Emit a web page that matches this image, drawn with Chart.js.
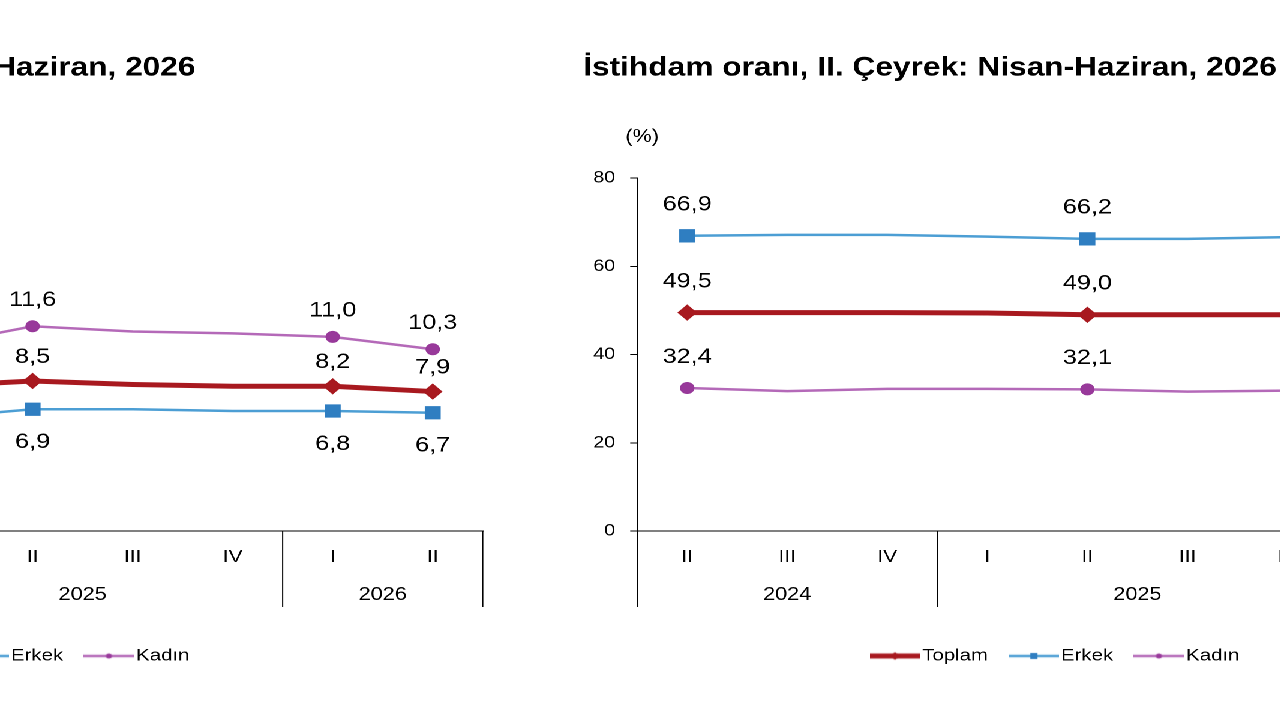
<!DOCTYPE html>
<html>
<head>
<meta charset="utf-8">
<script src="https://cdn.jsdelivr.net/npm/chart.js@4.4.1/dist/chart.umd.min.js"></script>
<style>
html, body { margin: 0; padding: 0; background: #fff; overflow: hidden; width: 1280px; height: 720px; }
/* the source picture is stretched sideways, so the whole stage is too */
#stage { position: absolute; left: 0; top: 0; height: 720px; transform-origin: 0 0; }
#stage canvas { position: absolute; top: 0; }
</style>
</head>
<body>
<div id="stage">
	<canvas id="issizlik"></canvas>
	<canvas id="istihdam"></canvas>
</div>
<script>
const quarters = ['II', 'III', 'IV', 'I', 'II', 'III', 'IV', 'I', 'II'];
const years = ['2024', '2024', '2024', '2025', '2025', '2025', '2025', '2026', '2026'];
const labelledQuarters = [0, 4, 7, 8];
const seriesNames = ['Toplam', 'Erkek', 'Kadın'];

// İşsizlik oranı (%)
const issizlikToplam = [8.6, 8.6, 8.7, 8.2, 8.5, 8.3, 8.2, 8.2, 7.9];
const issizlikErkek = [7.0, 7.0, 7.1, 6.4, 6.9, 6.9, 6.8, 6.8, 6.7];
const issizlikKadin = [11.6, 11.3, 11.5, 10.5, 11.6, 11.3, 11.2, 11.0, 10.3];
const issizlikTicks = [0, 5, 10, 15, 20];

// İstihdam oranı (%)
const istihdamToplam = [49.5, 49.5, 49.5, 49.4, 49.0, 49.0, 49.0, 48.9, 48.7];
const istihdamErkek = [66.9, 67.1, 67.1, 66.7, 66.2, 66.2, 66.6, 66.4, 66.1];
const istihdamKadin = [32.4, 31.7, 32.2, 32.2, 32.1, 31.6, 31.8, 31.7, 31.6];
const istihdamTicks = [0, 20, 40, 60, 80];

const FONT = '"Liberation Sans", Arial, sans-serif';
Chart.defaults.font.family = FONT;
Chart.defaults.color = '#000';

// horizontal stretch of the picture, and the page layout in screen px
const S = 1.2;
const titleLeft = 583, axisLeft = 637, plotW = 900, panelGap = 1055;
const yAxisW = (axisLeft - titleLeft) / S;
const lostRight = 7.5; // chart.js keeps this much on the right of the plot
const canvasW = Math.ceil(yAxisW + plotW / S + 2 + lostRight);
const padRight = canvasW - yAxisW - plotW / S - lostRight;

const stage = document.getElementById('stage');
stage.style.transform = 'scaleX(' + S + ')';
stage.style.width = (1280 / S) + 'px';
[['issizlik', titleLeft - panelGap], ['istihdam', titleLeft]].forEach(([id, left]) => {
	let c = document.getElementById(id);
	c.width = canvasW;
	c.height = 720;
	c.style.left = (left / S) + 'px';
});

const colors = {
	toplam: '#A8191F',
	erkekLine: '#4C9ED4', erkekMark: '#2F7EC1',
	kadinLine: '#B469B8', kadinMark: '#98399A'
};

function marks(r) {
	return quarters.map((q, i) => labelledQuarters.includes(i) ? r : 0);
}

const iconW = Math.round(50 / S);
function legendIcon(lineColor, lineWidth, markColor, shape) {
	let c = document.createElement('canvas');
	c.width = iconW; c.height = 14;
	let g = c.getContext('2d');
	let m = iconW / 2;
	g.strokeStyle = lineColor; g.lineWidth = lineWidth;
	g.beginPath(); g.moveTo(0, 7); g.lineTo(iconW, 7); g.stroke();
	g.fillStyle = markColor;
	g.beginPath();
	if (shape === 'diamond') {
		g.moveTo(m, 3); g.lineTo(m + 3.5, 7); g.lineTo(m, 11); g.lineTo(m - 3.5, 7);
	} else if (shape === 'square') {
		g.rect(m - 3, 4, 6, 6);
	} else {
		g.arc(m, 7, 2.5, 0, Math.PI * 2);
	}
	g.fill();
	return c;
}
const legendIcons = [
	legendIcon(colors.toplam, 5, colors.toplam, 'diamond'),
	legendIcon(colors.erkekLine, 2.5, colors.erkekMark, 'square'),
	legendIcon(colors.kadinLine, 2.5, colors.kadinMark, 'circle')
];

function makeDatasets(toplam, erkek, kadin, offsets) {
	return [
		{
			label: seriesNames[0], data: toplam, borderColor: colors.toplam, borderWidth: 5,
			pointStyle: 'rectRot', pointRadius: marks(7.5), pointBackgroundColor: colors.toplam,
			pointBorderColor: colors.toplam, pointBorderWidth: 1, labelOffset: offsets[0]
		},
		{
			label: seriesNames[1], data: erkek, borderColor: colors.erkekLine, borderWidth: 2.5,
			pointStyle: 'rect', pointRadius: marks(8.7), pointBackgroundColor: colors.erkekMark,
			pointBorderColor: colors.erkekMark, pointBorderWidth: 1, labelOffset: offsets[1]
		},
		{
			label: seriesNames[2], data: kadin, borderColor: colors.kadinLine, borderWidth: 2.5,
			pointStyle: 'circle', pointRadius: marks(5.5), pointBackgroundColor: colors.kadinMark,
			pointBorderColor: colors.kadinMark, pointBorderWidth: 1, labelOffset: offsets[2]
		}
	];
}

// values over the marked quarters
const pointLabels = {
	id: 'pointLabels',
	afterDatasetsDraw(chart) {
		let ctx = chart.ctx;
		ctx.save();
		ctx.font = '21px ' + FONT;
		ctx.fillStyle = '#000';
		ctx.textAlign = 'center';
		ctx.textBaseline = 'middle';
		chart.data.datasets.forEach((ds, di) => {
			let meta = chart.getDatasetMeta(di);
			labelledQuarters.forEach((i) => {
				let el = meta.data[i];
				ctx.fillText(ds.data[i].toFixed(1).replace('.', ','), el.x, el.y + ds.labelOffset);
			});
		});
		ctx.restore();
	}
};

// year row under the quarters, with the separators
const yearGroups = {
	id: 'yearGroups',
	afterDraw(chart) {
		let ctx = chart.ctx, x = chart.scales.x, area = chart.chartArea;
		let bounds = [area.left];
		for (let i = 1; i < years.length; i++) {
			if (years[i] !== years[i - 1]) bounds.push((x.getPixelForValue(i - 1) + x.getPixelForValue(i)) / 2);
		}
		bounds.push(area.right);
		ctx.save();
		ctx.strokeStyle = '#000';
		ctx.lineWidth = 1;
		ctx.beginPath();
		bounds.forEach((b) => { ctx.moveTo(b, area.bottom); ctx.lineTo(b, area.bottom + 76); });
		ctx.stroke();
		ctx.font = '18px ' + FONT;
		ctx.fillStyle = '#000';
		ctx.textAlign = 'center';
		ctx.textBaseline = 'middle';
		let start = 0;
		for (let i = 1; i <= years.length; i++) {
			if (i === years.length || years[i] !== years[start]) {
				let cx = (x.getPixelForValue(start) + x.getPixelForValue(i - 1)) / 2;
				ctx.fillText(years[start], cx, area.bottom + 64);
				start = i;
			}
		}
		ctx.restore();
	}
};

const unitLabel = {
	id: 'unitLabel',
	afterDraw(chart) {
		let ctx = chart.ctx, area = chart.chartArea;
		ctx.save();
		ctx.font = '18px ' + FONT;
		ctx.fillStyle = '#000';
		ctx.textAlign = 'center';
		ctx.textBaseline = 'middle';
		ctx.fillText('(%)', area.left + 5 / S, area.top - 41);
		ctx.restore();
	}
};

// nudge the legend row sideways
const legendShift = {
	id: 'legendShift',
	afterUpdate(chart, args, opts) {
		if (chart.legend) {
			chart.legend.left += opts.dx;
			chart.legend.right += opts.dx;
		}
	},
	defaults: { dx: 0 }
};

const titleSize = 26.4, legendSize = 17, legendPad = 24, legendBottom = 45.5;
const titleTop = 68 - titleSize * 0.6;
const titleBottom = 178 - titleTop - titleSize * 1.2;
const legendTop = 720 - legendBottom - (legendSize + legendPad + 10);

function makeChart(id, title, datasets, ticks, legendDx) {
	return new Chart(document.getElementById(id), {
		type: 'line',
		data: { labels: quarters, datasets: datasets },
		plugins: [pointLabels, yearGroups, unitLabel, legendShift],
		options: {
			responsive: false,
			devicePixelRatio: 2,
			animation: false,
			events: [],
			layout: { padding: { left: 0, right: padRight, top: 0, bottom: legendBottom } },
			elements: { line: { tension: 0 } },
			scales: {
				x: {
					offset: true,
					grid: { display: false },
					border: { display: true, color: '#000', width: 1 },
					ticks: { font: { size: 17.5 }, color: '#000', padding: 7.5, autoSkip: false, maxRotation: 0 },
					afterFit: (s) => { s.height = legendTop - 531; }
				},
				y: {
					min: ticks[0],
					max: ticks[ticks.length - 1],
					grid: { drawOnChartArea: false, drawTicks: true, tickLength: 7 / S, color: '#000' },
					border: { display: true, color: '#000', width: 1 },
					ticks: { stepSize: ticks[1] - ticks[0], font: { size: 16.5 }, color: '#000', padding: 15 / S },
					afterFit: (s) => { s.width = yAxisW; }
				}
			},
			plugins: {
				tooltip: { enabled: false },
				legendShift: { dx: legendDx },
				title: {
					display: true, text: title, align: 'start', color: '#000',
					font: { size: titleSize, weight: 'bold' },
					padding: { top: titleTop, bottom: titleBottom }
				},
				legend: {
					position: 'bottom',
					align: 'center',
					labels: {
						usePointStyle: true,
						pointStyleWidth: iconW - legendSize + 2 / S * 2,
						boxHeight: legendSize,
						padding: legendPad,
						color: '#000',
						font: { size: legendSize },
						generateLabels(chart) {
							let items = Chart.defaults.plugins.legend.labels.generateLabels(chart);
							items.forEach((it) => { it.pointStyle = legendIcons[it.datasetIndex]; });
							return items;
						}
					}
				}
			}
		}
	});
}

makeChart('issizlik', 'İşsizlik oranı, II. Çeyrek: Nisan-Haziran, 2026',
	makeDatasets(issizlikToplam, issizlikErkek, issizlikKadin, [-24, 33, -26]), issizlikTicks, -1);
makeChart('istihdam', 'İstihdam oranı, II. Çeyrek: Nisan-Haziran, 2026',
	makeDatasets(istihdamToplam, istihdamErkek, istihdamKadin, [-31, -31, -31]), istihdamTicks, -5);
</script>
</body>
</html>
